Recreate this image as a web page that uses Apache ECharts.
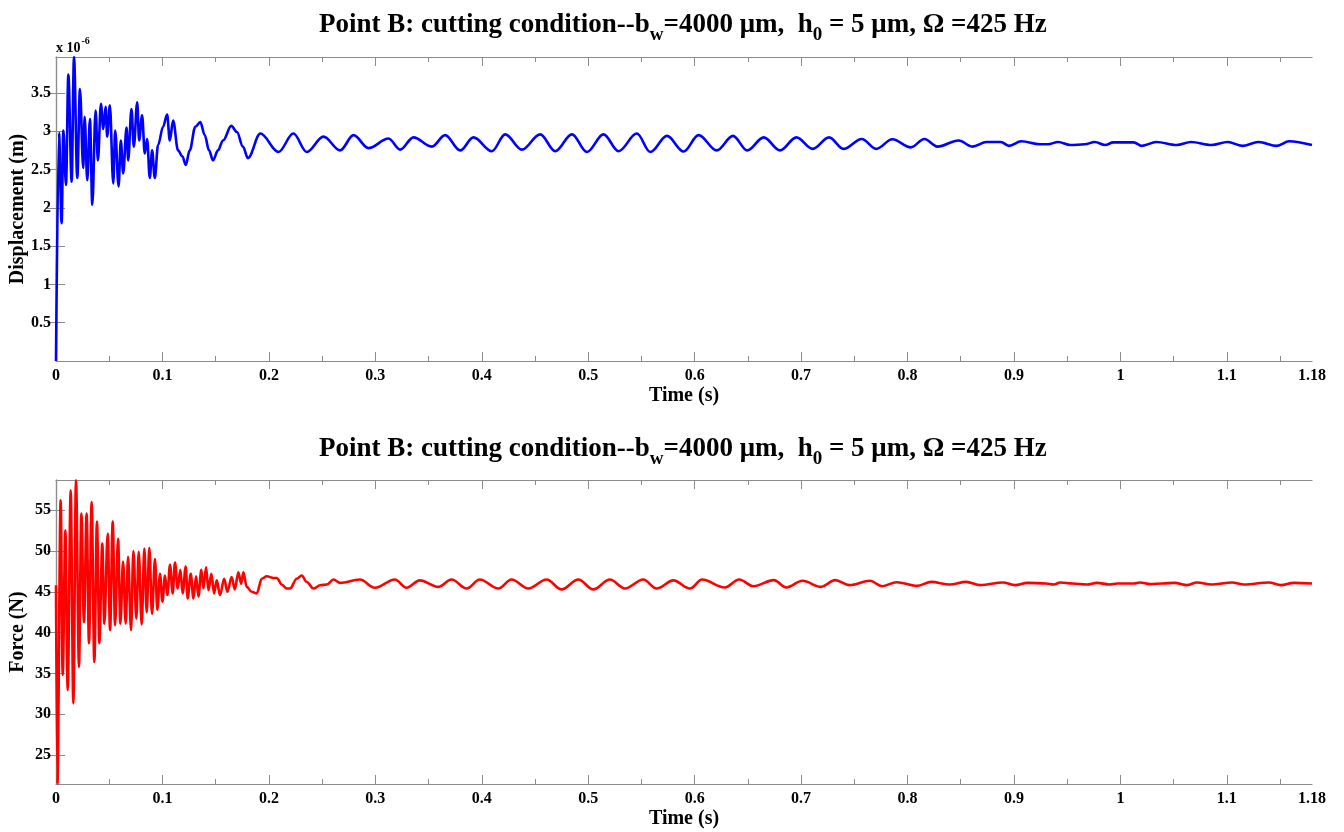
<!DOCTYPE html>
<html>
<head>
<meta charset="utf-8">
<script src="https://cdn.jsdelivr.net/npm/echarts@6/dist/echarts.min.js"></script>
<style>html,body{margin:0;padding:0;background:#fff}#c{width:1344px;height:832px}</style>
</head>
<body>
<div id="c"></div>
<script>
// ---------- data ----------
// Point B displacement, in units of 1e-6 m
const timeDisp = [0,0.0028,0.0053,0.0069,0.0094,0.0116,0.0147,0.0169,0.0200,0.0225,0.0256,0.0269,0.0294,0.0319,0.0341,0.0372,0.0394,0.0422,0.0444,0.0466,0.0481,0.0506,0.0538,0.0556,0.0588,0.0609,0.0631,0.0663,0.0678,0.0709,0.0731,0.0763,0.0781,0.0809,0.0834,0.0856,0.0881,0.0903,0.0928,0.0959,0.1006,0.1044,0.1069,0.1100,0.1147,0.1188,0.1219,0.1256,0.1309,0.1356,0.1397,0.1438,0.1475,0.1522,0.1569,0.1647,0.1700,0.1756,0.1803,0.1920,0.2090,0.2230,0.2356,0.2513,0.2669,0.2795,0.2936,0.3124,0.3233,0.3358,0.3531,0.3656,0.3797,0.3922,0.4095,0.4220,0.4377,0.4549,0.4690,0.4847,0.4988,0.5144,0.5285,0.5457,0.5583,0.5740,0.5896,0.6037,0.6207,0.6360,0.6494,0.6649,0.6802,0.6956,0.7109,0.7263,0.7398,0.7570,0.7705,0.7858,0.8031,0.8158,0.8281,0.8481,0.8608,0.8743,0.8877,0.8953,0.9069,0.9242,0.9319,0.9415,0.9530,0.9665,0.9760,0.9856,0.9933,1.0125,1.0202,1.0337,1.0529,1.0664,1.0855,1.1009,1.1144,1.1297,1.1470,1.1585,1.1800];
const dispVals = [0,2.98,1.80,3.01,2.30,3.74,2.34,3.97,2.39,3.55,2.52,3.19,2.36,3.16,2.04,3.27,2.62,3.36,3.03,3.32,2.93,3.34,2.32,3.01,2.28,2.88,2.45,3.05,2.62,3.29,2.80,3.38,2.88,3.21,2.71,2.90,2.39,2.75,2.39,2.82,3.06,3.22,2.88,3.14,2.75,2.67,2.56,2.75,3.06,3.12,2.95,2.75,2.62,2.75,2.88,3.07,2.99,2.80,2.65,2.97,2.73,2.97,2.73,2.93,2.75,2.95,2.78,2.905,2.76,2.92,2.80,2.95,2.75,2.92,2.74,2.96,2.76,2.96,2.74,2.96,2.73,2.96,2.74,2.97,2.73,2.94,2.735,2.95,2.75,2.94,2.75,2.92,2.75,2.92,2.77,2.92,2.77,2.90,2.77,2.895,2.79,2.90,2.80,2.88,2.80,2.86,2.86,2.81,2.87,2.83,2.83,2.86,2.82,2.83,2.86,2.82,2.855,2.855,2.81,2.86,2.82,2.86,2.82,2.86,2.81,2.86,2.81,2.87,2.82];

// Point B cutting force, N
const timeForce = [0,0.0013,0.0044,0.0063,0.0088,0.0110,0.0138,0.0163,0.0188,0.0216,0.0238,0.0263,0.0288,0.0310,0.0335,0.0360,0.0385,0.0407,0.0435,0.0454,0.0486,0.0508,0.0533,0.0555,0.0583,0.0605,0.0630,0.0655,0.0677,0.0705,0.0727,0.0755,0.0777,0.0805,0.0830,0.0852,0.0877,0.0902,0.0930,0.0952,0.0977,0.1000,0.1024,0.1046,0.1071,0.1096,0.1118,0.1143,0.1168,0.1190,0.1219,0.1237,0.1266,0.1291,0.1316,0.1338,0.1366,0.1385,0.1410,0.1432,0.1460,0.1485,0.1510,0.1541,0.1580,0.1610,0.1650,0.1680,0.1713,0.1740,0.1760,0.1792,0.1839,0.1886,0.1933,0.1980,0.2043,0.2074,0.2121,0.2168,0.2199,0.2262,0.2309,0.2356,0.2419,0.2481,0.2544,0.2607,0.2669,0.2855,0.2996,0.3184,0.3293,0.3418,0.3591,0.3716,0.3857,0.3982,0.4155,0.4280,0.4437,0.4609,0.4750,0.4907,0.5048,0.5204,0.5345,0.5517,0.5643,0.5800,0.5956,0.6070,0.6283,0.6418,0.6552,0.6744,0.6860,0.7013,0.7186,0.7320,0.7455,0.7647,0.7762,0.7897,0.8089,0.8223,0.8396,0.8551,0.8685,0.8896,0.9011,0.9126,0.9300,0.9376,0.9434,0.9549,0.9684,0.9779,0.9895,0.9971,1.0125,1.0183,1.0279,1.0394,1.0510,1.0625,1.0721,1.0856,1.1048,1.1163,1.1394,1.1509,1.1625,1.1800];
const forceVals = [45.8,21.45,56.2,34.8,52.55,32.96,57.45,31.33,58.67,35.8,54.6,41.3,54.6,38.7,56.0,36.4,53.6,38.7,50.9,41.1,52.1,40.3,53.6,40.9,51.5,41.1,48.7,41.1,49.3,40.3,50.0,41.7,49.9,41.0,50.3,42.5,50.4,42.3,49.0,42.8,47.2,43.8,47.0,44.6,48.3,44.8,48.6,45.4,47.7,44.8,48.1,44.2,47.2,44.2,46.9,44.4,47.7,45.4,48.0,45.2,47.2,44.8,46.4,44.6,46.6,45.0,46.8,45.3,47.4,46.0,47.4,45.6,45.0,44.8,46.6,46.9,46.7,46.7,45.9,45.4,45.4,46.6,47.0,46.2,45.4,45.8,45.9,46.5,46.1,46.5,45.5,46.5,45.5,46.4,45.6,46.5,45.4,46.5,45.4,46.5,45.4,46.5,45.3,46.5,45.3,46.5,45.4,46.5,45.4,46.4,45.4,46.5,45.53,46.51,45.69,46.43,45.53,46.35,45.61,46.43,45.82,46.35,45.69,46.18,45.73,46.22,45.90,46.22,45.82,46.14,45.82,46.10,46.02,45.90,46.14,46.02,45.90,46.10,45.90,46.02,46.02,46.14,45.94,46.02,46.10,45.82,46.14,45.90,46.14,45.90,46.14,45.82,46.10,46.02];

// axes, ticks and labels
const timeRange = [0, 1.18];
const dispRange = [0, 3.97];
const forceRange = [21.45, 58.7];
const xMajorTicks = [0,0.1,0.2,0.3,0.4,0.5,0.6,0.7,0.8,0.9,1,1.1];
const xMinorTicks = [0.05,0.15,0.25,0.35,0.45,0.55,0.65,0.75,0.85,0.95,1.05,1.15];
const xTickLabels = [0,0.1,0.2,0.3,0.4,0.5,0.6,0.7,0.8,0.9,1,1.1,1.18];
const dispTicks = [0.5,1,1.5,2,2.5,3,3.5];
const forceTicks = [25,30,35,40,45,50,55];
const dispExponent = '-6';
const xName = 'Time (s)';
const dispName = 'Displacement (m)';
const forceName = 'Force (N)';
const titleRich = '{b|Point B: cutting condition--b}{s|w}{b|=4000 \u03bcm,  h}{s|0}{b| = 5 \u03bcm, \u03a9 =425 Hz}';

// ---------- chart ----------
const FONT = 'Liberation Serif';
const AX = '#8c8c8c';
const grids = [
  {left: 56, right: 32, top: 57, height: 304, outerBoundsMode: 'none', containLabel: false},
  {left: 56, right: 32, top: 480, height: 304, outerBoundsMode: 'none', containLabel: false}
];
const lblStyle = {color: '#000', fontFamily: FONT, fontWeight: 'bold', fontSize: 16};
const nameStyle = {color: '#000', fontFamily: FONT, fontWeight: 'bold', fontSize: 20};

function xAxesFor(g) {
  const base = {type: 'value', gridIndex: g, min: timeRange[0], max: timeRange[1], splitLine: {show: false}};
  const tick = (vals, len) => ({show: true, inside: true, length: len, customValues: vals, lineStyle: {color: AX, width: 1}});
  return [
    Object.assign({}, base, {position: 'bottom', axisLine: {show: true, lineStyle: {color: AX, width: 1.2}},
      axisTick: tick(xMajorTicks, 9),
      axisLabel: Object.assign({customValues: xTickLabels, margin: 7, formatter: v => String(+(+v).toFixed(2))}, lblStyle),
      name: xName, nameLocation: 'middle', nameGap: 25, nameMoveOverlap: false, nameTextStyle: nameStyle}),
    Object.assign({}, base, {position: 'bottom', axisLine: {show: false}, axisTick: tick(xMinorTicks, 5), axisLabel: {show: false}}),
    Object.assign({}, base, {position: 'top', axisLine: {show: true, lineStyle: {color: AX, width: 1.2}}, axisTick: tick(xMajorTicks, 9), axisLabel: {show: false}}),
    Object.assign({}, base, {position: 'top', axisLine: {show: false}, axisTick: tick(xMinorTicks, 5), axisLabel: {show: false}})
  ];
}
function yAxesFor(g, range, ticks, name) {
  const base = {type: 'value', gridIndex: g, min: range[0], max: range[1], splitLine: {show: false}};
  return [
    Object.assign({}, base, {position: 'left', axisLine: {show: true, lineStyle: {color: AX, width: 1.2}},
      axisTick: {show: true, inside: true, length: 9, customValues: ticks, lineStyle: {color: AX}},
      axisLabel: Object.assign({customValues: ticks, margin: 5}, lblStyle),
      name: name, nameLocation: 'middle', nameGap: 28, nameMoveOverlap: false, nameTextStyle: nameStyle}),
    Object.assign({}, base, {position: 'right', axisLine: {show: true, lineStyle: {color: AX, width: 1.2}},
      axisTick: {show: true, inside: true, length: 9, customValues: ticks, lineStyle: {color: AX}},
      axisLabel: {show: false}})
  ];
}

const titleStyle = {
  rich: {
    b: {fontFamily: FONT, fontWeight: 'bold', fontSize: 27, color: '#000', lineHeight: 30, verticalAlign: 'top'},
    s: {fontFamily: FONT, fontWeight: 'bold', fontSize: 19, color: '#000', lineHeight: 30, verticalAlign: 'top', padding: [14, 0, 0, 0]}
  }
};

const chart = echarts.init(document.getElementById('c'), null, {renderer: 'canvas'});
chart.setOption({
  animation: false,
  backgroundColor: '#fff',
  title: [
    {text: titleRich, left: 314, top: 7, textStyle: titleStyle},
    {text: titleRich, left: 314, top: 431, textStyle: titleStyle}
  ],
  grid: grids,
  xAxis: xAxesFor(0).concat(xAxesFor(1)),
  yAxis: yAxesFor(0, dispRange, dispTicks, dispName).concat(yAxesFor(1, forceRange, forceTicks, forceName)),
  graphic: [{
    type: 'text', left: 56, top: 36,
    style: {
      text: '{a|x 10}{e|' + dispExponent + '}',
      rich: {
        a: {fontFamily: FONT, fontWeight: 'bold', fontSize: 14, fill: '#000', lineHeight: 19, verticalAlign: 'top', padding: [5, 0, 0, 0]},
        e: {fontFamily: FONT, fontWeight: 'bold', fontSize: 10, fill: '#000', lineHeight: 19, verticalAlign: 'top', padding: [0, 0, 0, 1]}
      }
    }
  }],
  series: [
    {type: 'line', xAxisIndex: 0, yAxisIndex: 0, data: timeDisp.map((t, i) => [t, dispVals[i]]),
     showSymbol: false, smooth: 0.35, smoothMonotone: 'x', clip: true,
     lineStyle: {color: '#0000ff', width: 2.6}, itemStyle: {color: '#0000ff'}},
    {type: 'line', xAxisIndex: 4, yAxisIndex: 2, data: timeForce.map((t, i) => [t, forceVals[i]]),
     showSymbol: false, smooth: 0.35, smoothMonotone: 'x', clip: true,
     lineStyle: {color: '#ff0000', width: 2.6}, itemStyle: {color: '#ff0000'}}
  ]
});
</script>
</body>
</html>
